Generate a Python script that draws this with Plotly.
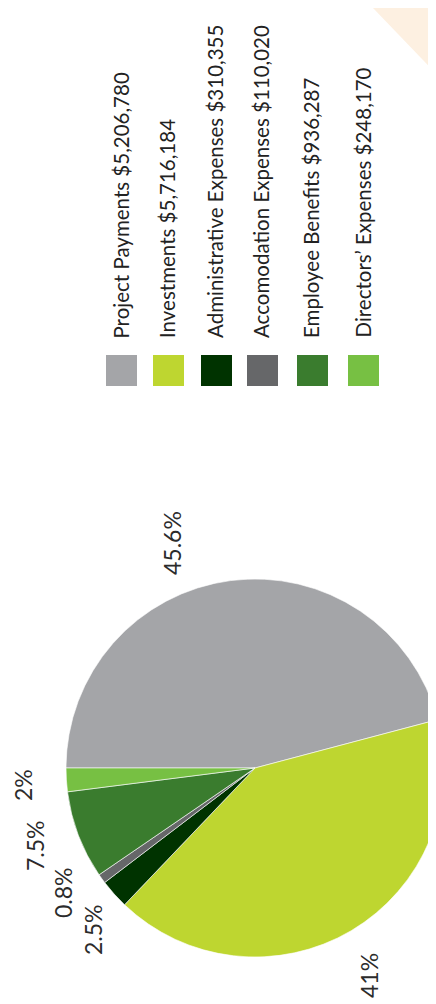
import plotly.graph_objects as go

categories = ["Project Payments", "Investments", "Administrative Expenses",
              "Accomodation Expenses", "Employee Benefits", "Directors’ Expenses"]
amounts = ["$5,206,780", "$5,716,184", "$310,355", "$110,020", "$936,287", "$248,170"]
percent_values = [45.6, 41, 2.5, 0.8, 7.5, 2]
percent_labels = ["45.6%", "41%", "2.5%", "0.8%", "7.5%", "2%"]
colors = ["#a4a5a8", "#bed630", "#003300", "#666769", "#3a7c2e", "#77c043"]

W, H = 436, 1004
OFF = 8  # page body margin offset
def px(x):
    return (x - OFF) / W
def py(y):
    return 1 - (y - OFF) / H

fig = go.Figure()
R = 189
CX, CY = 255, 768
fig.add_trace(go.Pie(
    labels=categories, values=percent_values, sort=False,
    direction="clockwise", rotation=-90,
    marker=dict(colors=colors, line=dict(color="white", width=0.6)),
    textinfo="none", hoverinfo="label+percent", showlegend=False,
    domain=dict(x=[px(CX - R), px(CX + R)], y=[py(CY + R), py(CY - R)]),
))

annotations = []
label_pos = [(172, 543), (369, 976), (93, 930), (63, 893), (35, 846), (23, 785)]
for txt, (x, y) in zip(percent_labels, label_pos):
    annotations.append(dict(x=px(x), y=py(y), xref="paper", yref="paper",
                            text=txt, showarrow=False, textangle=-90,
                            xanchor="center", yanchor="middle",
                            font=dict(family="Lato", size=23, color="#2b2b2b")))

col_x = [121.5, 168.5, 216.5, 262.5, 312.5, 363.5]
shapes = []
for cat, amt, c, x in zip(categories, amounts, colors, col_x):
    shapes.append(dict(type="rect", xref="paper", yref="paper",
                       x0=px(x - 15.5), x1=px(x + 15.5), y0=py(386), y1=py(355),
                       fillcolor=c, line=dict(width=0)))
    annotations.append(dict(x=px(x - 1), y=py(340), xref="paper", yref="paper",
                            text=f"{cat} {amt}", showarrow=False, textangle=-90,
                            xanchor="center", yanchor="bottom",
                            font=dict(family="Lato", size=20.5, color="#222222")))

# decorative peach triangle top-right
shapes.append(dict(type="path", xref="paper", yref="paper",
                   path=f"M {px(373)},{py(8)} L {px(444)},{py(8)} L {px(444)},{py(82)} Z",
                   fillcolor="#fdf0e1", line=dict(width=0), layer="below"))

fig.update_layout(width=W, height=H, margin=dict(l=0, r=0, t=0, b=0),
                  paper_bgcolor="white", plot_bgcolor="white",
                  annotations=annotations, shapes=shapes)
fig.write_html("out.html")
